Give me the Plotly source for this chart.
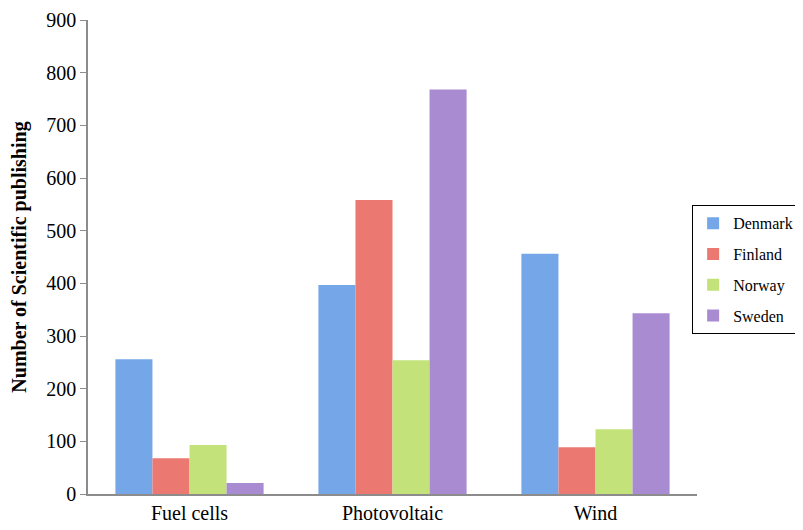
import plotly.graph_objects as go

categories = ["Fuel cells", "Photovoltaic", "Wind"]
countries = ["Denmark", "Finland", "Norway", "Sweden"]
denmark = [256, 397, 456]
finland = [68, 558, 89]
norway = [93, 254, 123]
sweden = [21, 768, 343]
series = [denmark, finland, norway, sweden]
colors = ["#74a6e8", "#ec7872", "#c3e27a", "#a98bd2"]

fig = go.Figure()
for name, vals, c in zip(countries, series, colors):
    fig.add_trace(go.Bar(x=categories, y=vals, name=name, legendgroup=name,
                         marker=dict(color=c, line=dict(width=0))))

font = "Liberation Serif, Times New Roman, serif"
fig.update_layout(
    width=795, height=522,
    margin=dict(l=80, r=106, t=12, b=36, autoexpand=False),
    paper_bgcolor="white", plot_bgcolor="white",
    barmode="group", bargap=0.27, bargroupgap=0,
    font=dict(family=font, size=20, color="black"),
    legend=dict(x=0.992, y=0.473, xanchor="left", yanchor="middle",
                bordercolor="black", borderwidth=1, bgcolor="white",
                font=dict(size=16, family=font), itemwidth=30,
                tracegroupgap=7),
    showlegend=True,
)
fig.update_yaxes(range=[0, 900], dtick=100, showgrid=False, showline=True,
                 linecolor="#8c8c8c", linewidth=1.5, ticks="outside",
                 tickcolor="#8c8c8c", ticklen=6, zeroline=False, automargin=False,
                 title=dict(text="<b>Number of Scientific publishing</b>",
                            font=dict(size=20, family=font), standoff=18),
                 tickfont=dict(size=20, family=font))
fig.update_xaxes(showline=True, linecolor="#8c8c8c", linewidth=2, ticks="",
                 showgrid=False, automargin=False, tickfont=dict(size=20, family=font))

fig.write_html("out.html")
